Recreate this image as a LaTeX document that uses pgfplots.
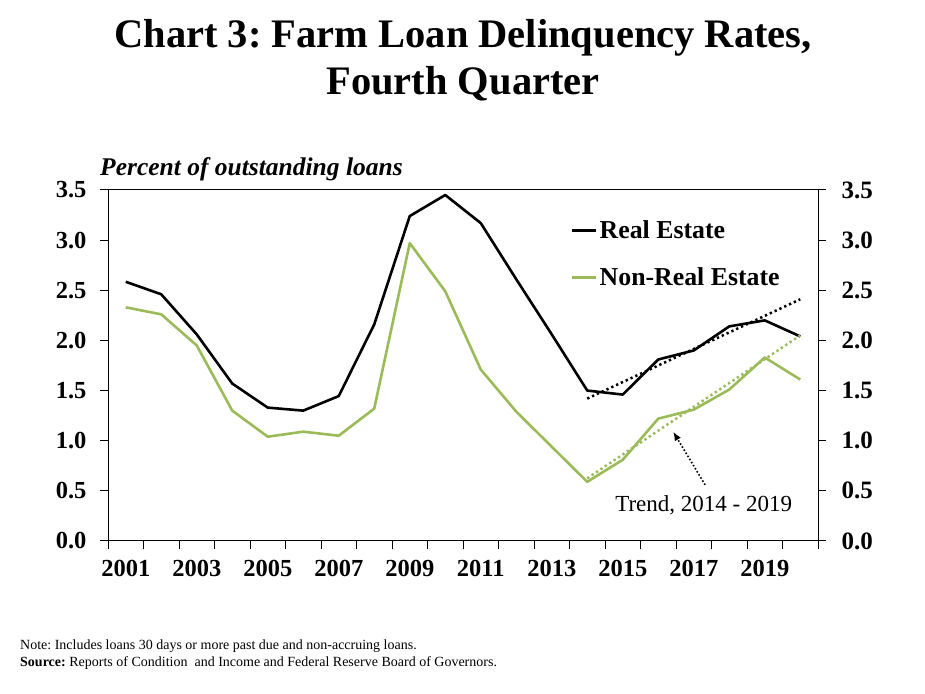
\documentclass[border=0pt]{standalone}
\usepackage{pgfplots}
\pgfplotsset{compat=1.18}
\usepackage{fontspec}
\setmainfont{Liberation Serif}
\usetikzlibrary{arrows.meta}
\definecolor{nregreen}{RGB}{155,187,89}
\frenchspacing
\begin{document}
\begin{tikzpicture}
\useasboundingbox (0pt,0pt) rectangle (925pt,693pt);
% title
\node[anchor=base,font=\fontsize{40.5}{46}\selectfont\bfseries] at (463pt,645pt) {Chart 3: Farm Loan Delinquency Rates,};
\node[anchor=base,font=\fontsize{40.5}{46}\selectfont\bfseries] at (463pt,598pt) {Fourth Quarter};
% y label
\node[anchor=base west,inner sep=0,font=\fontsize{25.5}{28}\selectfont\bfseries\itshape] at (100pt,517pt) {Percent of outstanding loans};
% notes
\node[anchor=base west,inner sep=0,font=\fontsize{14}{16}\selectfont] at (20pt,44pt) {Note: Includes loans 30 days or more past due and non-accruing loans.};
\node[anchor=base west,inner sep=0,font=\fontsize{14}{16}\selectfont] at (20pt,26.3pt) {\textbf{Source:} Reports of Condition\ \ and Income and Federal Reserve Board of Governors.};

\begin{axis}[
  at={(108pt,152pt)}, anchor=south west,
  scale only axis, width=710pt, height=351pt,
  xmin=-0.5, xmax=19.5, ymin=0, ymax=3.5,
  xtick={0,2,...,18},
  xticklabels={2001,2003,2005,2007,2009,2011,2013,2015,2017,2019},
  minor xtick={-0.5,0.5,...,19.5},
  major x tick style={draw=none},
  xtick pos=bottom,
  ytick={0,0.5,...,3.5},
  ytick pos=left,
  tick align=outside,
  major tick length=8pt, minor tick length=8pt,
  tick style={black, line width=1pt},
  axis line style={line width=1pt},
  ticklabel style={font=\fontsize{24.5}{24.5}\selectfont\bfseries},
  /pgf/number format/assume math mode=true,
  yticklabel style={/pgf/number format/fixed, /pgf/number format/fixed zerofill, /pgf/number format/precision=1, xshift=-10pt},
  xticklabel style={yshift=-8pt},
  legend style={draw=none, fill=none, at={(0.652,0.919)}, anchor=north west,
     font=\fontsize{25.8}{25.8}\selectfont\bfseries, row sep=24pt, inner sep=0pt,
     /tikz/every even column/.append style={column sep=1pt}},
  legend cell align=left,
  legend image code/.code={\draw[#1] (0pt,0pt) -- (24pt,0pt);},
  clip=false,
]
\addplot[black, line width=2.6pt, line join=round] coordinates {
(0,2.585) (1,2.46) (2,2.06) (3,1.57) (4,1.33) (5,1.30) (6,1.445) (7,2.16) (8,3.24) (9,3.45)
(10,3.17) (11,2.61) (12,2.06) (13,1.50) (14,1.46) (15,1.81) (16,1.90) (17,2.14) (18,2.20) (19,2.04)};
\addlegendentry{Real Estate}
\addplot[nregreen, line width=2.6pt, line join=round] coordinates {
(0,2.33) (1,2.26) (2,1.95) (3,1.30) (4,1.04) (5,1.09) (6,1.05) (7,1.32) (8,2.97) (9,2.49)
(10,1.71) (11,1.29) (12,0.94) (13,0.59) (14,0.81) (15,1.22) (16,1.31) (17,1.51) (18,1.83) (19,1.61)};
\addlegendentry{Non-Real Estate}
\addplot[black, line width=2.5pt, dash pattern=on 2.3pt off 3pt, forget plot] coordinates {(13,1.42) (19,2.41)};
\addplot[nregreen, line width=2.5pt, dash pattern=on 2.3pt off 3pt, forget plot] coordinates {(13,0.625) (19,2.05)};
\draw[black, line width=1.6pt, dash pattern=on 1.6pt off 2pt, -{Latex[length=9pt,width=7pt]}] (axis cs:16.32,0.56) -- (axis cs:15.42,1.09);
\node[anchor=base,font=\fontsize{23}{26}\selectfont] at (axis cs:16.28,0.29) {Trend, 2014 - 2019};
\end{axis}

\begin{axis}[
  at={(108pt,152pt)}, anchor=south west,
  scale only axis, width=710pt, height=351pt,
  xmin=-0.5, xmax=19.5, ymin=0, ymax=3.5,
  axis x line=none,
  axis y line*=right,
  ytick={0,0.5,...,3.5},
  tick align=outside,
  major tick length=8pt,
  tick style={black, line width=1pt},
  axis line style={line width=1pt},
  ticklabel style={font=\fontsize{25}{25}\selectfont\bfseries},
  /pgf/number format/assume math mode=true,
  yticklabel style={/pgf/number format/fixed, /pgf/number format/fixed zerofill, /pgf/number format/precision=1, xshift=12pt},
]
\end{axis}
\end{tikzpicture}
\end{document}
